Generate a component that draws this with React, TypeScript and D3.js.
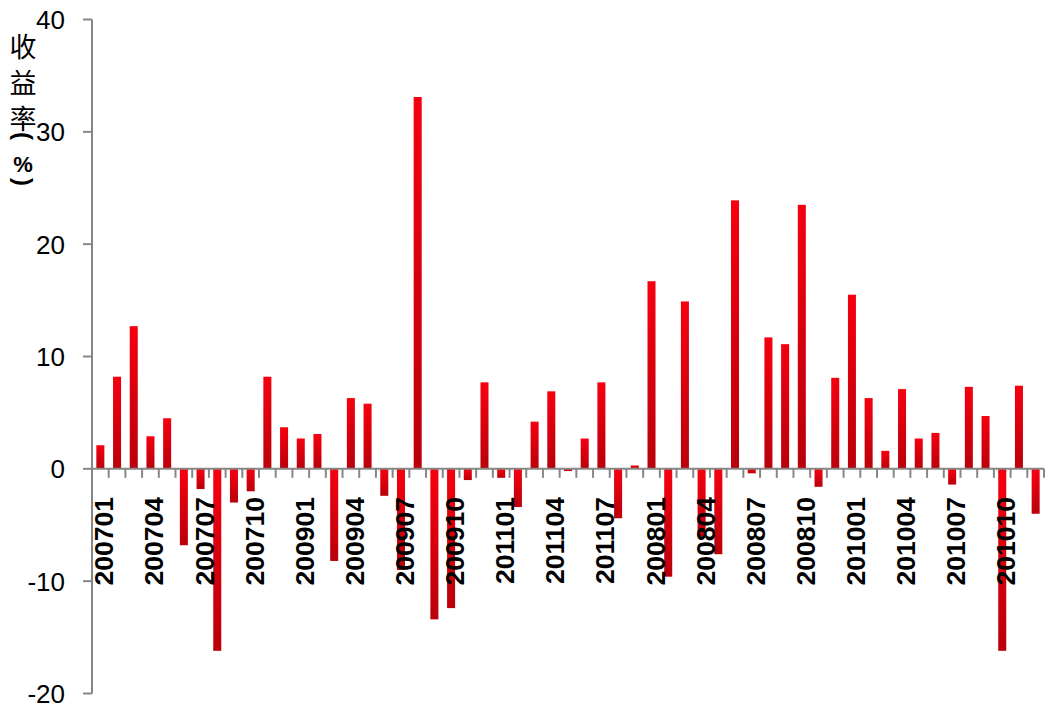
import React from "react";
import * as d3 from "d3";

const categories: string[] = [
  "200701", "200702", "200703", "200704", "200705", "200706", "200707", "200708", "200709", "200710", "200711", "200712",
  "200901", "200902", "200903", "200904", "200905", "200906", "200907", "200908", "200909", "200910", "200911", "200912",
  "201101", "201102", "201103", "201104", "201105", "201106", "201107", "201108", "201109",
  "200801", "200802", "200803", "200804", "200805", "200806", "200807", "200808", "200809", "200810", "200811", "200812",
  "201001", "201002", "201003", "201004", "201005", "201006", "201007", "201008", "201009", "201010", "201011", "201012",
];

const returns: number[] = [
  2.1, 8.2, 12.7, 2.9, 4.5, -6.8, -1.8, -16.2, -3.0, -2.0, 8.2, 3.7,
  2.7, 3.1, -8.2, 6.3, 5.8, -2.4, -9.0, 33.1, -13.4, -12.4, -1.0, 7.7,
  -0.8, -3.4, 4.2, 6.9, -0.2, 2.7, 7.7, -4.4, 0.3,
  16.7, -9.6, 14.9, -6.0, -7.6, 23.9, -0.4, 11.7, 11.1, 23.5, -1.6, 8.1,
  15.5, 6.3, 1.6, 7.1, 2.7, 3.2, -1.4, 7.3, 4.7, -16.2, 7.4, -4.0,
];

const yTicks: number[] = [-20, -10, 0, 10, 20, 30, 40];
const titleChars: string[] = ["收", "益", "率"];

const W = 1056;
const H = 708;
const axisX0 = 92;
const axisX1 = 1044;

export default function App() {
  const x = d3
    .scaleBand<string>()
    .domain(categories)
    .range([axisX0, axisX1])
    .paddingInner(0.52)
    .paddingOuter(0.26);
  const y = d3.scaleLinear().domain([-20, 40]).range([693.5, 19.5]);
  const step = x.step();
  const y0 = y(0);
  const grey = "#868686";
  const labelFont = "'Liberation Sans', Arial, sans-serif";

  return (
    <svg
      width={W}
      height={H}
      style={{ position: "absolute", left: 0, top: 0, background: "#fff" }}
    >
      <defs>
        <linearGradient id="barGrad" x1="0" y1="0" x2="0" y2="1">
          <stop offset="0%" stopColor="#f6000f" />
          <stop offset="100%" stopColor="#b9000b" />
        </linearGradient>
      </defs>

      {/* bars */}
      {returns.map((v, i) => {
        const c = categories[i];
        const top = y(Math.max(0, v));
        const bot = y(Math.min(0, v));
        return (
          <rect
            key={c}
            x={x(c)}
            y={top}
            width={x.bandwidth()}
            height={Math.max(1, bot - top)}
            fill="url(#barGrad)"
          />
        );
      })}

      {/* y axis */}
      <line x1={axisX0} x2={axisX0} y1={y(40)} y2={y(-20)} stroke={grey} strokeWidth={2} />
      {yTicks.map((t) => (
        <g key={t}>
          <line x1={axisX0 - 9} x2={axisX0} y1={y(t)} y2={y(t)} stroke={grey} strokeWidth={2} />
          <text
            x={65}
            y={y(t)}
            dy="0.36em"
            textAnchor="end"
            fontFamily={labelFont}
            fontSize={26}
            fill="#000"
          >
            {t}
          </text>
        </g>
      ))}

      {/* x axis (zero line) */}
      <line x1={axisX0} x2={axisX1} y1={y0} y2={y0} stroke={grey} strokeWidth={2} />
      {d3.range(categories.length + 1).map((i) => {
        const xx = axisX0 + i * step;
        return (
          <line key={"t" + i} x1={xx} x2={xx} y1={y0} y2={y0 + 9} stroke={grey} strokeWidth={2} />
        );
      })}
      {categories.map((c, i) =>
        i % 3 === 0 ? (
          <text
            key={"l" + c}
            transform={`translate(${(x(c) as number) + x.bandwidth() / 2 + 13},${497}) rotate(-90)`}
            textAnchor="end"
            fontFamily={labelFont}
            fontWeight="bold"
            fontSize={26.5}
            fill="#000"
          >
            {c}
          </text>
        ) : null
      )}

      {/* y axis title, stacked vertically */}
      {titleChars.map((ch, i) => (
        <text
          key={ch}
          x={23}
          y={45 + i * 36}
          dominantBaseline="central"
          textAnchor="middle"
          fontFamily="'Noto Sans CJK SC', sans-serif"
          fontSize={27}
          fill="#000"
        >
          {ch}
        </text>
      ))}
      <text
        transform="translate(23,136) rotate(90)"
        textAnchor="middle"
        dominantBaseline="central"
        fontFamily={labelFont}
        fontWeight="bold"
        fontSize={24}
      >
        (
      </text>
      <text
        x={23}
        y={164}
        textAnchor="middle"
        dominantBaseline="central"
        fontFamily={labelFont}
        fontWeight="bold"
        fontSize={22}
      >
        %
      </text>
      <text
        transform="translate(23,182) rotate(90)"
        textAnchor="middle"
        dominantBaseline="central"
        fontFamily={labelFont}
        fontWeight="bold"
        fontSize={24}
      >
        )
      </text>
    </svg>
  );
}
